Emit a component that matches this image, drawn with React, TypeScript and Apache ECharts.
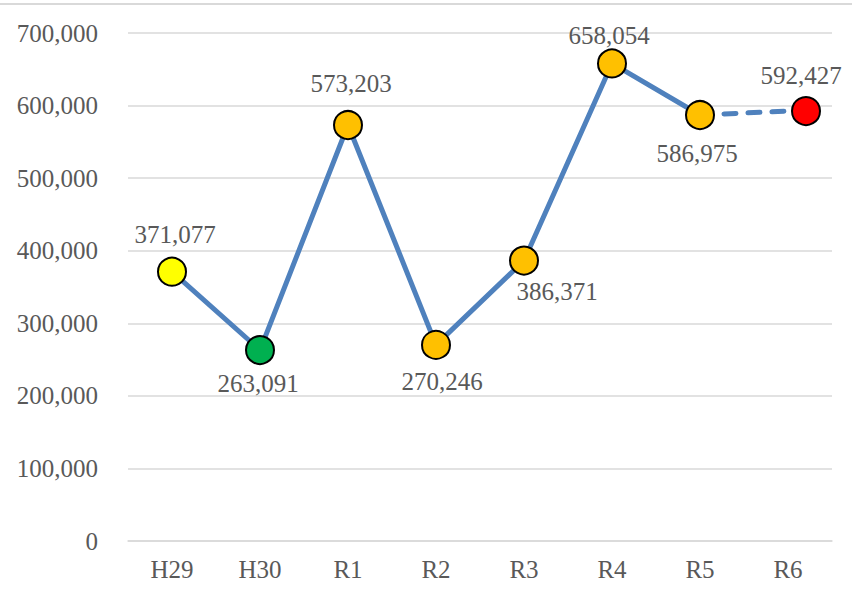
import React, { useEffect, useRef } from "react";
import * as echarts from "echarts";

const categories = ["H29", "H30", "R1", "R2", "R3", "R4", "R5", "R6"];
const values = [371077, 263091, 573203, 270246, 386371, 658054, 586975, 592427];
const yTicks = { min: 0, max: 700000, interval: 100000 };

const markerColors = ["#FFFF00", "#00B050", "#FFC000", "#FFC000", "#FFC000", "#FFC000", "#FFC000", "#FF0000"];
const labelOffsets = [
  [3, -37],
  [-2, 33],
  [3, -42],
  [6, 37],
  [33, 31],
  [-3, -28],
  [-3, 38],
  [-5, -36],
];

const FONT = "'Liberation Serif', 'Times New Roman', serif";
const TEXT = "#595959";
const GRID = "#d9d9d9";
const LINE = "#4F81BD";

const fmt = (v: number) => v.toLocaleString("en-US");

export default function App() {
  const ref = useRef<HTMLDivElement>(null);
  useEffect(() => {
    if (!ref.current) return;
    const chart = echarts.init(ref.current, undefined, { renderer: "svg" });
    const lastSolid = values.length - 2;
    const makeItem = (i: number, extra: any = {}) => ({
      value: values[i],
      itemStyle: { color: markerColors[i], borderColor: "#000", borderWidth: 2 },
      label: {
        show: true,
        position: "inside",
        offset: labelOffsets[i],
        formatter: () => fmt(values[i]),
        fontFamily: FONT,
        fontSize: 25,
        color: TEXT,
      },
      ...extra,
    });
    const solidData = values.map((_, i) => (i <= lastSolid ? makeItem(i) : "-"));
    const dashedData = values.map((_, i) => {
      if (i < lastSolid) return "-";
      if (i === lastSolid) return { value: values[i], symbol: "none", label: { show: false } };
      return makeItem(i, { symbolOffset: [18, 0] });
    });
    chart.setOption({
      animation: false,
      backgroundColor: "#fff",
      grid: { left: 128, right: 20, top: 33, bottom: 56 },
      graphic: [
        {
          type: "line",
          shape: { x1: 0, y1: 4, x2: 852, y2: 4 },
          style: { stroke: GRID, lineWidth: 2 },
        },
      ],
      xAxis: {
        type: "category",
        data: categories,
        boundaryGap: true,
        axisLine: { show: true, lineStyle: { color: GRID, width: 1.5 } },
        axisTick: { show: false },
        axisLabel: { color: TEXT, fontFamily: FONT, fontSize: 25, margin: 16 },
      },
      yAxis: {
        type: "value",
        min: yTicks.min,
        max: yTicks.max,
        interval: yTicks.interval,
        axisLine: { show: false },
        axisTick: { show: false },
        splitLine: { lineStyle: { color: GRID, width: 1.5 } },
        axisLabel: {
          color: TEXT,
          fontFamily: FONT,
          fontSize: 25,
          margin: 30,
          formatter: (v: number) => fmt(v),
        },
      },
      series: [
        {
          type: "line",
          z: 2,
          data: dashedData,
          symbol: "circle",
          symbolSize: 28,
          showSymbol: true,
          connectNulls: false,
          lineStyle: { color: LINE, width: 5, type: [12, 12], cap: "round" },
          itemStyle: { color: LINE },
        },
        {
          type: "line",
          z: 3,
          data: solidData,
          symbol: "circle",
          symbolSize: 28,
          showSymbol: true,
          lineStyle: { color: LINE, width: 5 },
          itemStyle: { color: LINE },
        },
      ],
    });
    return () => chart.dispose();
  }, []);
  return (
    <div
      ref={ref}
      style={{ position: "fixed", left: 0, top: 0, width: 852, height: 597, background: "#fff" }}
    />
  );
}
